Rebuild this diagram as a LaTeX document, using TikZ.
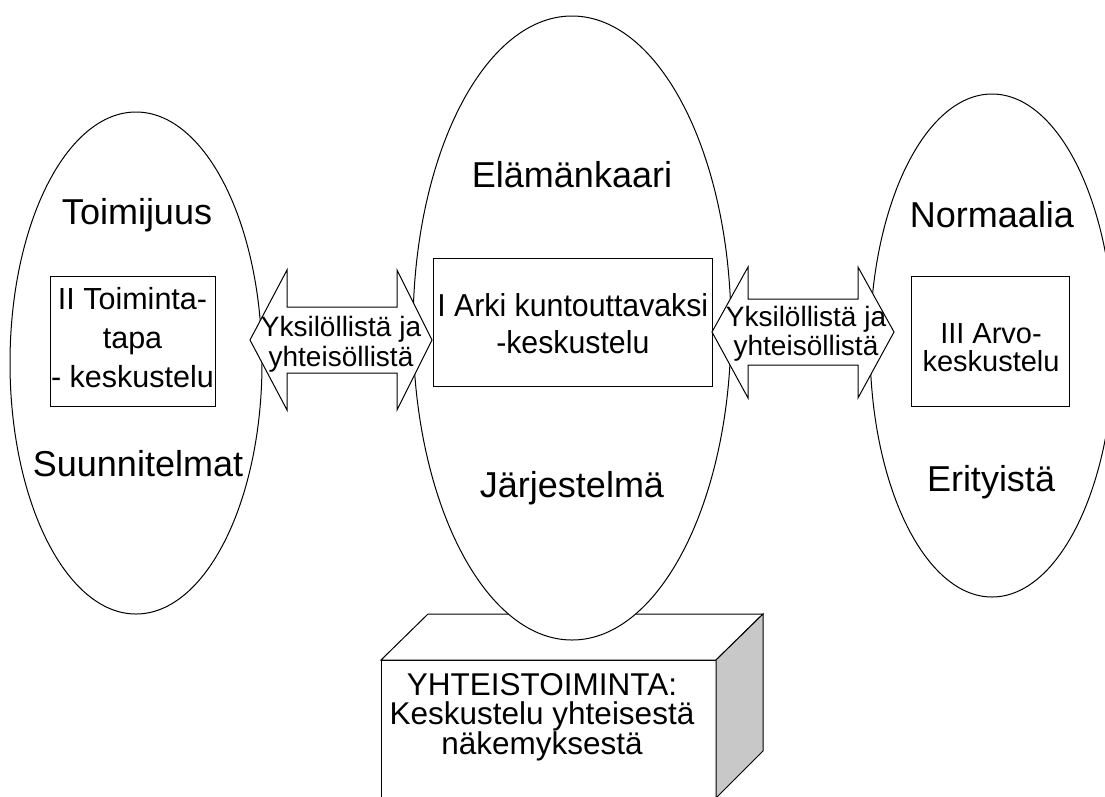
\documentclass[tikz,border=0pt]{standalone}
\usepackage{fontspec}
\setmainfont{Liberation Sans}
\newfontfamily\narrowsans{Liberation Sans}[FakeStretch=0.955]
\usetikzlibrary{shapes.geometric}
\definecolor{sidegray}{RGB}{200,200,200}
\begin{document}
\begin{tikzpicture}[x=1pt,y=-1pt,
  line width=1,
  oval/.style={ellipse, draw, fill=white, inner sep=0},
  panel/.style={draw, fill=white, inner sep=0},
  boxtext/.style={align=center, inner sep=0},
  blockarrow/.style={draw, fill=white, line join=miter},
  arrowtext/.style={align=center, inner sep=0, font=\fontsize{28}{29.3}\selectfont},
  biglabel/.style={anchor=base, inner sep=0, font=\fontsize{36}{40}\selectfont},
  coopfont/.style={align=center, inner sep=0, font=\fontsize{31.5}{29.5}\selectfont}
]
\useasboundingbox (0,0) rectangle (1105,796);

% the block the centre ellipse stands on
\filldraw[fill=white] (381,798) -- (381,660) -- (716,660) -- (716,798);
\filldraw[fill=white] (381,660) -- (428,614) -- (763,614) -- (716,660) -- cycle;
\filldraw[fill=sidegray] (716,660) -- (763,614) -- (763,751) -- (716,798) -- cycle;
\node[coopfont] (coop) at (542,717)
  {YHTEISTOIMINTA:\\Keskustelu yhteisestä\\näkemyksestä};

% the three ellipses
\node[oval, minimum width=252, minimum height=502] (left) at (136,363) {};
\node[oval, minimum width=318, minimum height=624] (centre) at (572,328) {};
\node[oval, minimum width=244, minimum height=503] (right) at (992,345.5) {};

% boxes inside the ellipses, with their texts
\node[panel, minimum width=165, minimum height=130] (toiminta) at (132.5,341) {};
\node[boxtext, font=\fontsize{30.5}{39}\selectfont] (toimintatext) at (132.5,338)
  {II Toiminta-\\tapa\\- keskustelu};
\node[panel, minimum width=279, minimum height=128] (arki) at (572.5,322) {};
\node[boxtext, font=\narrowsans\fontsize{31.7}{36.7}\selectfont] (arkitext)
  at (572.8,323.5) {I Arki kuntouttavaksi\\-keskustelu};
\node[panel, minimum width=158, minimum height=130] (arvo) at (990,341) {};
\node[boxtext, font=\fontsize{29}{28}\selectfont] (arvotext) at (991,347.5)
  {III Arvo-\\keskustelu};

% double block arrows between the ellipses
\draw[blockarrow] (250,340) -- (287,270) -- (287,307) -- (397,307) -- (397,270)
  -- (432,340) -- (397,410) -- (397,373) -- (287,373) -- (287,410) -- cycle;
\draw[blockarrow] (712,332) -- (748,267) -- (748,299) -- (858,299) -- (858,267)
  -- (894,332) -- (858,398) -- (858,365) -- (748,365) -- (748,398) -- cycle;
\node[arrowtext] (linkL) at (341,344.4) {Yksilöllistä ja\\yhteisöllistä};
\node[arrowtext] (linkR) at (806,334.1) {Yksilöllistä ja\\yhteisöllistä};

% labels in the ellipses
\node[biglabel] (toimijuus) at (137,224) {Toimijuus};
\node[biglabel] (suunnitelmat) at (138,476) {Suunnitelmat};
\node[biglabel] (elamankaari) at (572,187) {Elämänkaari};
\node[biglabel] (jarjestelma) at (572,497) {Järjestelmä};
\node[biglabel] (normaalia) at (992,227) {Normaalia};
\node[biglabel] (erityista) at (991,491) {Erityistä};
\end{tikzpicture}
\end{document}
